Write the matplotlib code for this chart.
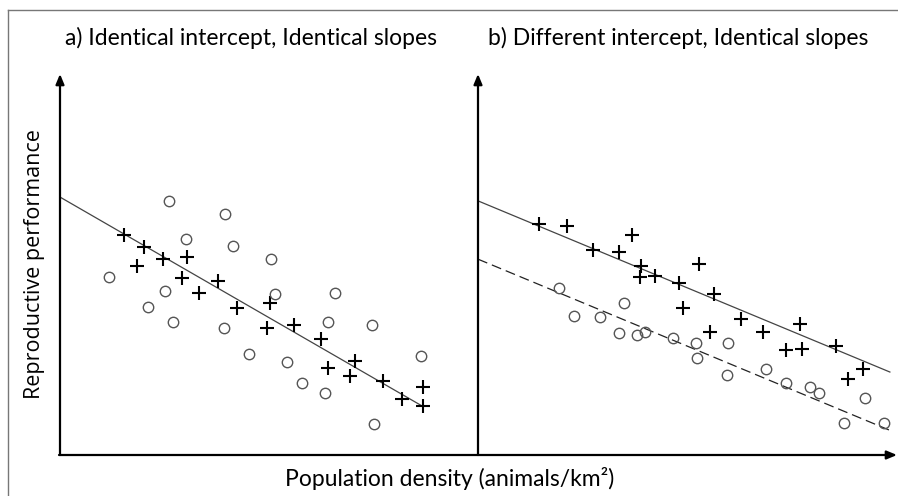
import numpy as np
import matplotlib
matplotlib.use("Agg")
from matplotlib import pyplot as plt
from matplotlib.lines import Line2D

# a) identical intercept, identical slopes
a_cross_x = [15.3, 20.1, 18.4, 24.6, 30.4, 29.2, 33.3, 37.8, 42.3, 50.2,
             49.5, 56.0, 62.4, 70.6, 64.1, 69.4, 77.3, 81.8, 86.8, 86.8]
a_cross_y = [57.7, 54.6, 49.6, 51.4, 52.0, 46.5, 42.5, 45.7, 38.6, 39.9,
             33.3, 34.1, 30.4, 24.7, 22.8, 20.7, 19.4, 14.7, 17.8, 12.9]
a_circ_x = [26.1, 39.5, 30.1, 41.4, 50.5, 11.7, 25.1, 51.4, 65.8, 21.1,
            27.0, 39.2, 64.1, 74.6, 45.2, 54.3, 86.4, 57.9, 63.4, 75.1]
a_circ_y = [66.7, 63.3, 56.7, 54.9, 51.4, 46.7, 43.0, 42.3, 42.5, 38.8,
            34.9, 33.3, 34.9, 34.1, 26.5, 24.4, 26.0, 18.9, 16.3, 8.1]
a_intercept = 67.7
a_slope = -0.633
a_xend = 86.6

# b) different intercept, identical slopes
b_cross_x = [14.6, 21.2, 36.8, 27.4, 33.7, 38.9, 38.7, 42.2, 52.7, 48.0, 56.3,
             48.9, 62.8, 55.4, 68.0, 76.8, 73.5, 77.3, 85.4, 91.9, 88.3]
b_cross_y = [60.6, 60.1, 57.7, 53.8, 53.3, 49.6, 46.7, 47.0, 50.1, 45.1, 42.3,
             38.6, 35.7, 32.3, 32.3, 34.4, 27.6, 27.8, 28.6, 22.6, 19.9]
b_circ_x = [19.3, 34.8, 22.9, 29.1, 33.7, 37.9, 39.9, 46.5, 52.0, 59.7,
            52.3, 59.4, 68.7, 73.5, 79.2, 81.4, 92.4, 87.4, 96.9]
b_circ_y = [43.8, 39.9, 36.5, 36.2, 32.0, 31.5, 32.3, 30.7, 29.4, 29.4,
            25.5, 21.0, 22.6, 18.9, 17.8, 16.3, 15.0, 8.4, 8.4]
b_intercepts = [66.7, 51.4]
b_slope = -0.457
b_xend = 98.3

titles = ["a) Identical intercept, Identical slopes",
          "b) Different intercept, Identical slopes"]

W, H = 898, 496
fig = plt.figure(figsize=(W / 100, H / 100), dpi=100)

# panel boxes in pixels (left, bottom, width, height)
ax_a = fig.add_axes([60 / W, (H - 455) / H, 418 / W, 381 / H])
ax_b = fig.add_axes([478 / W, (H - 455) / H, 419 / W, 381 / H])

cross_kw = dict(marker="+", linestyle="none", color="black", markersize=10, markeredgewidth=1.5)
circ_kw = dict(marker="o", linestyle="none", markerfacecolor="none", markeredgecolor="#555555",
               markersize=7.5, markeredgewidth=1.0)

for ax in (ax_a, ax_b):
    ax.set_xlim(0, 100)
    ax.set_ylim(0, 100)
    ax.set_axis_off()

xs = np.array([0, a_xend])
ax_a.plot(xs, a_intercept + a_slope * xs, color="#444444", lw=0.9)
ax_a.plot(a_cross_x, a_cross_y, **cross_kw)
ax_a.plot(a_circ_x, a_circ_y, **circ_kw)

xs = np.array([0, b_xend])
ax_b.plot(xs, b_intercepts[0] + b_slope * xs, color="#444444", lw=0.9)
ax_b.plot(xs, b_intercepts[1] + b_slope * xs, color="#222222", lw=0.9, dashes=(8, 4))
ax_b.plot(b_cross_x, b_cross_y, **cross_kw)
ax_b.plot(b_circ_x, b_circ_y, **circ_kw)

# axes drawn as arrows
arrow = dict(arrowstyle="-|>,head_length=0.6,head_width=0.25", color="black", lw=1.6,
             shrinkA=0, shrinkB=0)
for ax in (ax_a, ax_b):
    ax.annotate("", xy=(0, 1), xytext=(0, 0), xycoords="axes fraction",
                textcoords="axes fraction", arrowprops=arrow, annotation_clip=False)
ax_b.annotate("", xy=(1, 0), xytext=(-1, 0), xycoords="axes fraction",
              textcoords="axes fraction", arrowprops=arrow, annotation_clip=False)

# titles
fig.text(65 / W, 1 - 45 / H, titles[0], family="Lato", fontsize=16.5, va="baseline", ha="left")
fig.text(488 / W, 1 - 45 / H, titles[1], family="Lato", fontsize=16.5, va="baseline", ha="left")

fig.text(35 / W, 1 - 264 / H, "Reproductive performance", family="Open Sans", fontsize=15.5,
         rotation=90, va="center", ha="center")
fig.text(450 / W, 1 - 479 / H, "Population density (animals/km²)", family="Lato",
         fontsize=16.5, va="center", ha="center")

# outer frame
fig.add_artist(Line2D([8 / W, 1], [1 - 10 / H, 1 - 10 / H], color="#777777", lw=1))
fig.add_artist(Line2D([8 / W, 8 / W], [0, 1 - 10 / H], color="#777777", lw=1))

fig.savefig("out.png", dpi=100)
